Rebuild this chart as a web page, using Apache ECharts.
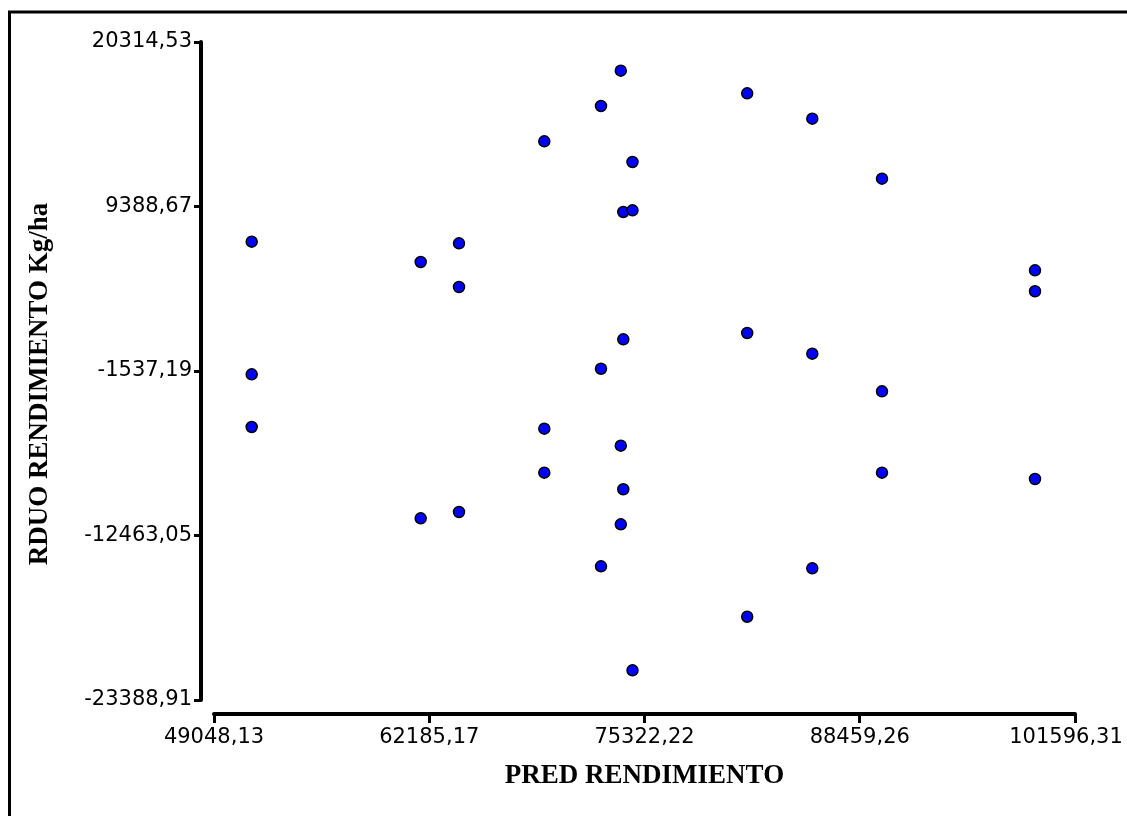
<!DOCTYPE html>
<html>
<head>
<meta charset="utf-8">
<title>RDUO vs PRED RENDIMIENTO</title>
<script src="https://cdn.jsdelivr.net/npm/echarts@6/dist/echarts.min.js"></script>
<style>
  html, body { margin: 0; padding: 0; background: #fff; }
  #chart { width: 1127px; height: 816px; }
</style>
</head>
<body>
<div id="chart"></div>
<script>
// tick values shown on the axes
const xTicks = [49048.13, 62185.17, 75322.22, 88459.26, 101596.31];
const yTicks = [-23388.91, -12463.05, -1537.19, 9388.67, 20314.53];

// predicted yield (x) and residual (y)
const predValues = [
    51349, 51349, 51349,
    61663, 61663,
    64001, 64001, 64001,
    69207, 69207, 69207,
    72667, 72667, 72667,
    73875, 73875, 73875,
    74028, 74028, 74028,
    74590, 74590, 74590,
    81590, 81590, 81590,
    85563, 85563, 85563,
    89817, 89817, 89817,
    99155, 99155, 99155
];
const residValues = [
    7051, -1757, -5256,
    5703, -11321,
    6944, 4042, -10902,
    13719, -5369, -8292,
    16064, -1385, -14509,
    18408, -6499, -11720,
    9023, 568, -9394,
    12344, 9136, -21416,
    16907, 987, -17857,
    15220, -388, -14642,
    11235, -2886, -8292,
    5151, 3757, -8711
];

const chart = echarts.init(document.getElementById('chart'));

function fmt(v) {
    return v.toFixed(2).replace('.', ',');
}

const labelFont = { fontFamily: 'DejaVu Sans', fontSize: 21, color: '#000' };
const titleFont = { fontFamily: 'Liberation Serif', fontWeight: 'bold', fontSize: 27, color: '#000' };

const option = {
    animation: false,
    backgroundColor: '#fff',
    grid: { left: 214, right: 52, top: 42, bottom: 116 },
    xAxis: {
        type: 'value',
        min: xTicks[0],
        max: xTicks[xTicks.length - 1],
        offset: 14,
        name: 'PRED RENDIMIENTO',
        nameLocation: 'middle',
        nameGap: 49,
        nameTextStyle: titleFont,
        axisLine: { show: true, onZero: false, lineStyle: { color: '#000', width: 4 } },
        axisTick: { show: true, length: 9, lineStyle: { color: '#000', width: 3 }, customValues: xTicks },
        axisLabel: Object.assign({
            margin: 13,
            customValues: xTicks,
            formatter: function (v) {
                // last label sits a little left of its tick in the original
                if (Math.abs(v - xTicks[xTicks.length - 1]) < 0.01) return '{e|' + fmt(v) + '}';
                return fmt(v);
            },
            rich: { e: { fontFamily: 'DejaVu Sans', fontSize: 21, color: '#000', padding: [0, 18, 0, 0] } }
        }, labelFont),
        splitLine: { show: false }
    },
    yAxis: {
        type: 'value',
        min: yTicks[0],
        max: yTicks[yTicks.length - 1],
        offset: 13,
        axisLine: { show: true, onZero: false, lineStyle: { color: '#000', width: 4 } },
        axisTick: { show: true, length: 7, lineStyle: { color: '#000', width: 3 }, customValues: yTicks },
        axisLabel: Object.assign({
            margin: 9,
            customValues: yTicks,
            formatter: fmt
        }, labelFont),
        splitLine: { show: false }
    },
    graphic: [
        {
            type: 'rect',
            shape: { x: 9.5, y: 12, width: 1140, height: 830 },
            style: { fill: 'none', stroke: '#000', lineWidth: 3 }
        },
        {
            type: 'text',
            x: 40,
            y: 384,
            rotation: Math.PI / 2,
            style: {
                text: 'RDUO RENDIMIENTO Kg/ha',
                textAlign: 'center',
                textVerticalAlign: 'middle',
                fontFamily: 'Liberation Serif',
                fontWeight: 'bold',
                fontSize: 27,
                fill: '#000'
            }
        }
    ],
    series: [{
        type: 'scatter',
        data: predValues.map((x, i) => [x, residValues[i]]),
        symbol: 'circle',
        symbolSize: 11,
        itemStyle: { color: '#0000ff', borderColor: '#000', borderWidth: 1.5, opacity: 1 },
        emphasis: { disabled: true }
    }]
};

chart.setOption(option);
</script>
</body>
</html>
